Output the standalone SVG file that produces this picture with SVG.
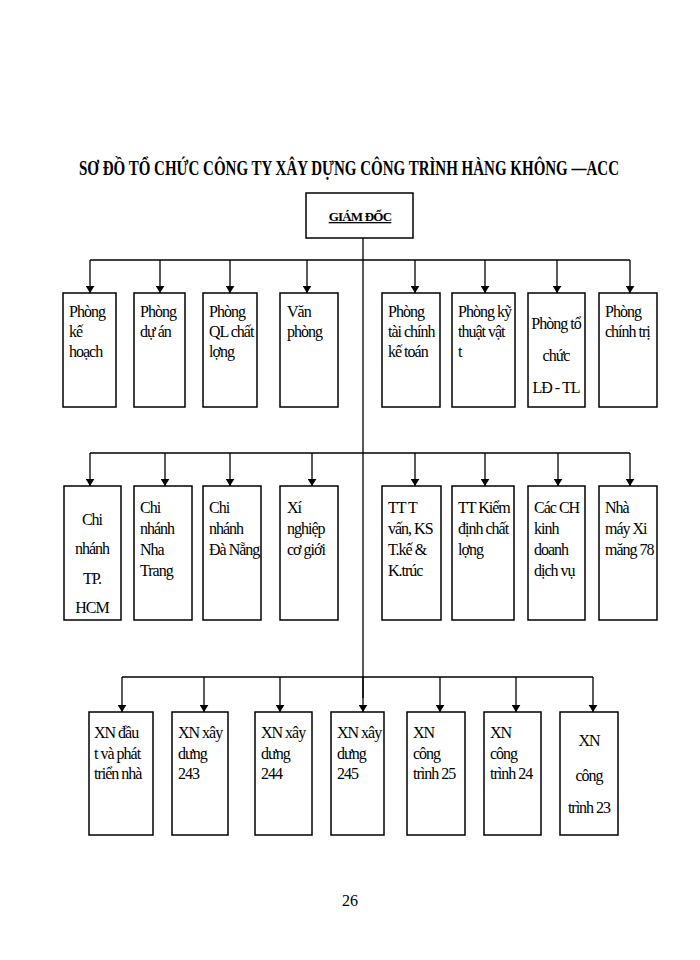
<svg xmlns="http://www.w3.org/2000/svg" width="700" height="960" viewBox="0 0 700 960">
<defs>
<style>
.b{fill:#fff;stroke:#000;stroke-width:1.5}
text{font-family:'Liberation Serif','Times New Roman',serif}
.t{font-size:16px;fill:#000;letter-spacing:-1px}
.c{text-anchor:middle}
.l{stroke:#000;stroke-width:1.3;fill:none}
</style>
<marker id="a" viewBox="0 0 8 10" refX="8" refY="5" markerWidth="7" markerHeight="9" markerUnits="userSpaceOnUse" orient="auto"><path d="M0,0 L8,5 L0,10 z" fill="#000"/></marker>
</defs>
<rect width="700" height="960" fill="#fff"/>
<text x="79" y="175" font-weight="bold" font-size="21" textLength="540" lengthAdjust="spacingAndGlyphs">SƠ ĐỒ TỔ CHỨC CÔNG TY XÂY DỰNG CÔNG TRÌNH HÀNG KHÔNG —ACC</text>
<g id="connectors">
<path class="l" d="M363 238 V698 M90 260 H630 M90 453 H630 M122 677 H593"/>
<g marker-end="url(#a)">
<path class="l" d="M90 260V293"/><path class="l" d="M160 260V293"/><path class="l" d="M230 260V293"/><path class="l" d="M307 260V293"/><path class="l" d="M415 260V293"/><path class="l" d="M485 260V293"/><path class="l" d="M557 260V293"/><path class="l" d="M630 260V293"/>
<path class="l" d="M90 453V486"/><path class="l" d="M165 453V486"/><path class="l" d="M230 453V486"/><path class="l" d="M312 453V486"/><path class="l" d="M415 453V486"/><path class="l" d="M485 453V486"/><path class="l" d="M558 453V486"/><path class="l" d="M630 453V486"/>
<path class="l" d="M122 677V712"/><path class="l" d="M204 677V712"/><path class="l" d="M280 677V712"/><path class="l" d="M363 677V712"/><path class="l" d="M440 677V712"/><path class="l" d="M516 677V712"/><path class="l" d="M593 677V712"/>
</g>
</g>
<g id="giamdoc"><rect class="b" x="306" y="193" width="107" height="45"/><text x="360" y="221" text-anchor="middle" font-family="Liberation Sans,sans-serif" font-weight="bold" font-size="13" letter-spacing="-0.8" text-decoration="underline">GIÁM ĐỐC</text></g>
<g id="r1n1"><rect class="b" x="63" y="293" width="53" height="114"/><text class="t" x="69" y="317">Phòng</text><text class="t" x="69" y="337">kế</text><text class="t" x="69" y="357">hoạch</text></g>
<g id="r1n2"><rect class="b" x="134" y="293" width="51" height="114"/><text class="t" x="140" y="317">Phòng</text><text class="t" x="140" y="337">dự án</text></g>
<g id="r1n3"><rect class="b" x="203" y="293" width="54" height="114"/><text class="t" x="209" y="317">Phòng</text><text class="t" x="209" y="337">QL chất</text><text class="t" x="209" y="357">lợng</text></g>
<g id="r1n4"><rect class="b" x="280" y="293" width="58" height="114"/><text class="t" x="287" y="317">Văn</text><text class="t" x="287" y="337">phòng</text></g>
<g id="r1n5"><rect class="b" x="382" y="293" width="58" height="114"/><text class="t" x="388" y="317">Phòng</text><text class="t" x="388" y="337">tài chính</text><text class="t" x="388" y="357">kế toán</text></g>
<g id="r1n6"><rect class="b" x="452" y="293" width="63" height="114"/><text class="t" x="458" y="317">Phòng kỹ</text><text class="t" x="458" y="337">thuật vật</text><text class="t" x="458" y="357">t</text></g>
<g id="r1n7"><rect class="b" x="528" y="293" width="57" height="114"/><text class="t c" x="556" y="329">Phòng tổ</text><text class="t c" x="556" y="361">chức</text><text class="t c" x="556" y="393">LĐ - TL</text></g>
<g id="r1n8"><rect class="b" x="599" y="293" width="58" height="114"/><text class="t" x="605" y="317">Phòng</text><text class="t" x="605" y="337">chính trị</text></g>
<g id="r2n1"><rect class="b" x="64" y="486" width="57" height="134"/><text class="t c" x="92" y="525">Chi</text><text class="t c" x="92" y="554">nhánh</text><text class="t c" x="92" y="584">TP.</text><text class="t c" x="92" y="613">HCM</text></g>
<g id="r2n2"><rect class="b" x="134" y="486" width="58" height="134"/><text class="t" x="140" y="513">Chi</text><text class="t" x="140" y="534">nhánh</text><text class="t" x="140" y="555">Nha</text><text class="t" x="140" y="576">Trang</text></g>
<g id="r2n3"><rect class="b" x="203" y="486" width="58" height="134"/><text class="t" x="209" y="513">Chi</text><text class="t" x="209" y="534">nhánh</text><text class="t" x="209" y="555">Đà Nẵng</text></g>
<g id="r2n4"><rect class="b" x="280" y="486" width="58" height="134"/><text class="t" x="287" y="513">Xí</text><text class="t" x="287" y="534">nghiệp</text><text class="t" x="287" y="555">cơ giới</text></g>
<g id="r2n5"><rect class="b" x="382" y="486" width="59" height="134"/><text class="t" x="388" y="513">TT T</text><text class="t" x="388" y="534">vấn, KS</text><text class="t" x="388" y="555">T.kế &amp;</text><text class="t" x="388" y="576">K.trúc</text></g>
<g id="r2n6"><rect class="b" x="452" y="486" width="62" height="134"/><text class="t" x="458" y="513">TT Kiểm</text><text class="t" x="458" y="534">định chất</text><text class="t" x="458" y="555">lợng</text></g>
<g id="r2n7"><rect class="b" x="528" y="486" width="57" height="134"/><text class="t" x="534" y="513">Các CH</text><text class="t" x="534" y="534">kinh</text><text class="t" x="534" y="555">doanh</text><text class="t" x="534" y="576">dịch vụ</text></g>
<g id="r2n8"><rect class="b" x="599" y="486" width="58" height="134"/><text class="t" x="605" y="513">Nhà</text><text class="t" x="605" y="534">máy Xi</text><text class="t" x="605" y="555">măng 78</text></g>
<g id="r3n1"><rect class="b" x="89" y="712" width="64" height="123"/><text class="t" x="94" y="738">XN đầu</text><text class="t" x="94" y="759">t  và phát</text><text class="t" x="94" y="779">triển nhà</text></g>
<g id="r3n2"><rect class="b" x="172" y="712" width="56" height="123"/><text class="t" x="178" y="738">XN xây</text><text class="t" x="178" y="759">dưng</text><text class="t" x="178" y="779">243</text></g>
<g id="r3n3"><rect class="b" x="255" y="712" width="57" height="123"/><text class="t" x="261" y="738">XN xây</text><text class="t" x="261" y="759">dưng</text><text class="t" x="261" y="779">244</text></g>
<g id="r3n4"><rect class="b" x="331" y="712" width="53" height="123"/><text class="t" x="337" y="738">XN xây</text><text class="t" x="337" y="759">dưng</text><text class="t" x="337" y="779">245</text></g>
<g id="r3n5"><rect class="b" x="407" y="712" width="58" height="123"/><text class="t" x="413" y="738">XN</text><text class="t" x="413" y="759">công</text><text class="t" x="413" y="779">trình 25</text></g>
<g id="r3n6"><rect class="b" x="484" y="712" width="57" height="123"/><text class="t" x="490" y="738">XN</text><text class="t" x="490" y="759">công</text><text class="t" x="490" y="779">trình 24</text></g>
<g id="r3n7"><rect class="b" x="560" y="712" width="58" height="123"/><text class="t c" x="589" y="746">XN</text><text class="t c" x="589" y="781">công</text><text class="t c" x="589" y="813">trình 23</text></g>
<text class="c" x="350" y="906" font-size="16">26</text>
</svg>
